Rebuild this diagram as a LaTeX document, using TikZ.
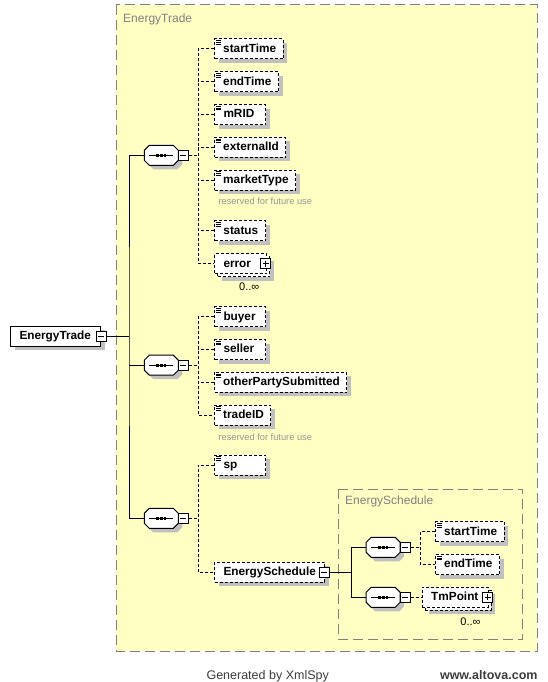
\documentclass[tikz,border=0pt]{standalone}
\usepackage{fontspec}
\setmainfont{Liberation Sans}
\usetikzlibrary{positioning,shadows}

\definecolor{groupfill}{RGB}{255,255,196}
\definecolor{groupline}{RGB}{128,128,128}
\definecolor{shadowgray}{RGB}{192,192,192}
\definecolor{notegray}{RGB}{150,150,150}
\definecolor{creditgray}{RGB}{60,60,60}

\newcommand\leaffont{\fontsize{11.8}{14}\selectfont\bfseries}
\newcommand\titlefont{\fontsize{12}{14}\selectfont}
\newcommand\notefont{\fontsize{9.3}{11}\selectfont}
\newcommand\occfont{\fontsize{11}{13}\selectfont}
\newcommand\creditfont{\fontsize{12.5}{15}\selectfont}
\newdimen\namemin

\tikzset{
  shd/.style = {general shadow={fill=shadowgray, shadow xshift=4pt, shadow yshift=-4pt}},
  elem/.style = {draw, fill=white, line width=1pt, dash pattern=on 3pt off 2pt,
    minimum width=51pt, minimum height=20pt, inner xsep=7pt, inner ysep=0pt,
    text height=9pt, text depth=2.4pt, font=\leaffont, anchor=west,
    % names sit at the left of the box
    execute at begin node={\setbox0=\hbox\bgroup\kern1.7pt},
    execute at end node={\egroup
      \pgfmathsetlength\namemin{\pgfkeysvalueof{/pgf/minimum width}-14.6pt}%
      \ifdim\wd0<\namemin \wd0=\namemin\fi\box0}},
  leaf/.style = {elem, shd,
    path picture={
      \foreach \k in {1.6,3.4,5.2}
        \draw[line width=0.8pt, solid] ([shift={(1.5pt,-\k pt)}]path picture bounding box.north west) -- ++(5pt,0pt);
    }},
  rootelem/.style = {elem, shd, solid},
  octo/.style = {draw, fill=white, line width=1pt, shd},
  tgl/.style = {draw, solid, fill=white, line width=1pt, minimum size=10pt, inner sep=0pt},
  collapse/.style = {tgl,
    path picture={
      \draw[line width=1pt] ([xshift=2pt]path picture bounding box.west) -- ([xshift=-2pt]path picture bounding box.east);
    }},
  expand/.style = {tgl,
    path picture={
      \draw[line width=1pt] ([xshift=2pt]path picture bounding box.west) -- ([xshift=-2pt]path picture bounding box.east);
      \draw[line width=1pt] ([yshift=-2pt]path picture bounding box.north) -- ([yshift=2pt]path picture bounding box.south);
    }},
  wire/.style = {line width=1pt},
  link/.style = {line width=1pt, dash pattern=on 3pt off 2pt},
  typebox/.style = {draw=groupline, line width=1pt, dash pattern=on 10pt off 5pt},
  typetitle/.style = {text=groupline, font=\titlefont, inner sep=0pt, anchor=base west},
  note/.style = {text=notegray, font=\notefont, inner sep=0pt, anchor=base west},
  occ/.style = {font=\occfont, inner sep=0pt, anchor=base east},
  credit/.style = {text=creditgray, font=\creditfont, inner sep=0pt},
  sequence/.pic = {
    \draw[octo] (-12,-10) -- (12,-10) -- (17,-5) -- (17,5) -- (12,10) -- (-12,10) -- (-17,5) -- (-17,-5) -- cycle;
    \draw[wire] (-12,0) -- (12,0);
    \foreach \d in {-3.6,0,3.6}
      \fill (\d-1.3,-1.3) rectangle ++(2.6,2.6);
    \coordinate (-in) at (-17,0);
    \node[collapse, anchor=west] (-x) at (16.5,0) {};
  },
}

\begin{document}
\begin{tikzpicture}[x=1pt, y=-1pt]
        \useasboundingbox (0,0) rectangle (547,682);
        % type boxes
        \draw[typebox, fill=groupfill] (116,5) rectangle (537,651); %
        \node[typetitle] (t_trade) at (123,23) {EnergyTrade}; %
        \draw[typebox] (338.3,489) rectangle (522.7,639.3); %
        \node[typetitle] (t_sched) at (345,504.5) {EnergySchedule}; %
        %
        \node[rootelem, minimum width=90pt] (root) at (10,336.3) {EnergyTrade}; %
        \node[collapse] (root_x) at (root.east) {}; %
        %
        \pic (seq_1) at (161.3,155.3) {sequence}; %
        \pic (seq_2) at (161.3,365.2) {sequence}; %
        \pic (seq_3) at (161.3,518.3) {sequence}; %
        %
        \node[leaf] (startTime) at (214,49) {startTime}; %
        \node[leaf, below=11.8pt of startTime.south west, anchor=north west] (endTime) {endTime}; %
        \node[leaf, below=11.8pt of endTime.south west, anchor=north west] (mRID) {mRID}; %
        \node[leaf, below=11.8pt of mRID.south west, anchor=north west] (externalId) {externalId}; %
        \node[leaf, below=11.8pt of externalId.south west, anchor=north west] (marketType) {marketType}; %
        \node[note] (note_1) at ([shift={(4.3pt,-14pt)}]marketType.south west) {reserved for future use}; %
        \node[leaf, below=29.7pt of marketType.south west, anchor=north west] (status) {status}; %
        \node[elem, shd, minimum width=52pt] (error_b) at (217,266.7) {}; %
        \node[elem, minimum width=52pt] (error) at ([shift={(-3pt,3pt)}]error_b.west) {error}; %
        \node[expand] (error_x) at ([xshift=-1.5pt]error.east) {}; %
        \node[occ] (error_n) at ([shift={(-7.5pt,-16pt)}]error.south east) {0..∞}; %
        %
        \node[leaf] (buyer) at (214,316.7) {buyer}; %
        \node[leaf, below=11.8pt of buyer.south west, anchor=north west] (seller) {seller}; %
        \node[leaf, below=11.8pt of seller.south west, anchor=north west] (otherParty) {otherPartySubmitted}; %
        \node[leaf, below=11.8pt of otherParty.south west, anchor=north west] (tradeID) {tradeID}; %
        \node[note] (note_2) at ([shift={(4.3pt,-14.5pt)}]tradeID.south west) {reserved for future use}; %
        %
        \node[leaf] (sp) at (214,465) {sp}; %
        \node[elem, shd, minimum width=110pt] (sched) at (214,572.3) {EnergySchedule}; %
        \node[collapse] (sched_x) at ([xshift=-1pt]sched.east) {}; %
        %
        \pic (seq_a) at (383.2,547.3) {sequence}; %
        \pic (seq_b) at (383.2,597.3) {sequence}; %
        \node[leaf] (es_startTime) at (435,531.7) {startTime}; %
        \node[leaf, below=11.8pt of es_startTime.south west, anchor=north west] (es_endTime) {endTime}; %
        \node[elem, shd, minimum width=66pt] (tmPoint_b) at (424.7,600.3) {}; %
        \node[elem, minimum width=66pt] (tmPoint) at ([shift={(-3pt,3pt)}]tmPoint_b.west) {TmPoint}; %
        \node[expand] (tmPoint_x) at ([xshift=-1pt]tmPoint.east) {}; %
        \node[occ] (tmPoint_n) at ([shift={(-8pt,-17.5pt)}]tmPoint.south east) {0..∞}; %
        %
        \coordinate (trunk) at (129,336.3); %
        \coordinate (trunk_s) at (351.7,572.3); %
        \coordinate[right=9.5pt of seq_1-x.east] (bus_1); %
        \coordinate[right=9.5pt of seq_2-x.east] (bus_2); %
        \coordinate[right=9.5pt of seq_3-x.east] (bus_3); %
        \coordinate[right=9.5pt of seq_a-x.east] (bus_a); %
        %
        \draw[wire] (root_x.east) -- (trunk); %
        \draw[wire] (seq_1-in) -| (trunk) |- (seq_3-in); %
        \draw[wire] (seq_2-in) -- (seq_2-in -| trunk); %
        \draw[wire] (sched_x.east) -- (trunk_s); %
        \draw[wire] (seq_a-in) -| (trunk_s) |- (seq_b-in); %
        %
        \draw[link] (seq_1-x.east) -- (bus_1); %
        \draw[link] (startTime.west) -| (bus_1) |- (error.west); %
        \foreach \e in {endTime, mRID, externalId, marketType, status}
          \draw[link] (\e.west) -- (\e.west -| bus_1); %
        \draw[link] (seq_2-x.east) -- (bus_2); %
        \draw[link] (buyer.west) -| (bus_2) |- (tradeID.west); %
        \foreach \e in {seller, otherParty}
          \draw[link] (\e.west) -- (\e.west -| bus_2); %
        \draw[link] (seq_3-x.east) -- (bus_3); %
        \draw[link] (sp.west) -| (bus_3) |- (sched.west); %
        \draw[link] (seq_a-x.east) -- (bus_a); %
        \draw[link] (es_startTime.west) -| (bus_a) |- (es_endTime.west); %
        \draw[link] (seq_b-x.east) -- (tmPoint.west); %
        %
        \node[credit, anchor=base] (gen) at (267.7,679) {Generated by XmlSpy}; %
        \node[credit, font=\creditfont\bfseries, anchor=base east] (url) at (537.7,679) {www.altova.com}; %
\end{tikzpicture}
\end{document}
